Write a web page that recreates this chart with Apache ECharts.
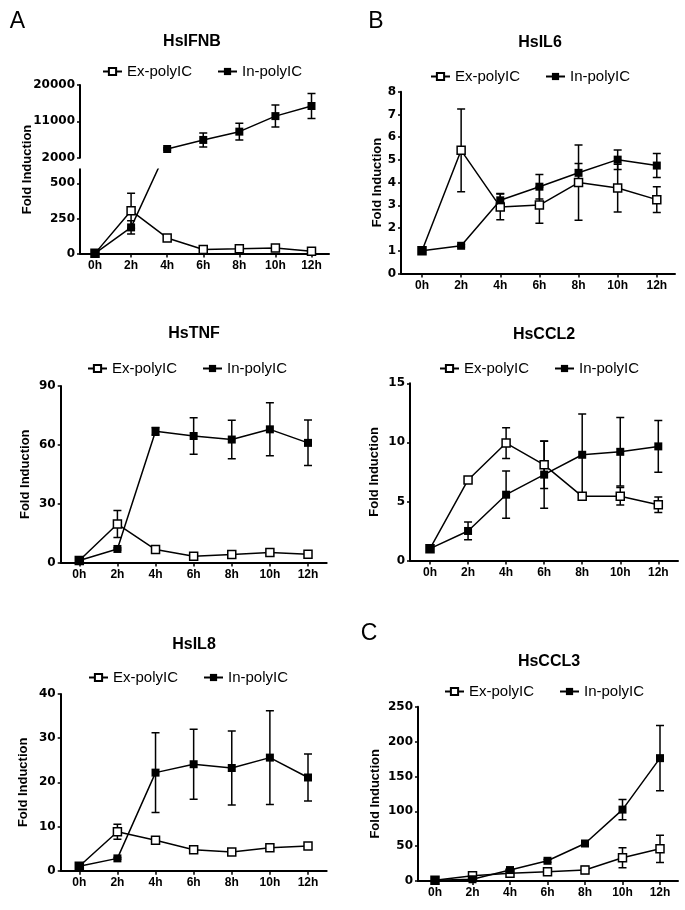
<!DOCTYPE html>
<html>
<head>
<meta charset="utf-8">
<script src="https://cdn.jsdelivr.net/npm/echarts@6/dist/echarts.min.js"></script>
<style>
html,body{margin:0;padding:0;background:#fff;}
#chart{width:685px;height:910px;}
</style>
</head>
<body>
<div id="chart"></div>
<script>
// ---------- DATA ----------
const hours = [0, 2, 4, 6, 8, 10, 12];
const hourLabels = ['0h', '2h', '4h', '6h', '8h', '10h', '12h'];
const seriesNames = ['Ex-polyIC', 'In-polyIC'];
const panelTitles = ['HsIFNB', 'HsIL6', 'HsTNF', 'HsCCL2', 'HsIL8', 'HsCCL3'];
const panelLetters = ['A', 'B', 'C'];
const yAxisTitle = 'Fold Induction';

// HsIFNB (broken axis: lower 0-600, upper 2000-20000)
const ifnbEx    = [1, 305, 111, 28, 33, 40, 16];
const ifnbExErr = [0, 125, 20, 6, 6, 8, 5];
const ifnbIn    = [1, 186, 4150, 6400, 8450, 12300, 14800];
const ifnbInErr = [0, 47, 250, 1730, 2060, 2720, 3100];
const ifnbLowTicks = [0, 250, 500];
const ifnbHighTicks = [2000, 11000, 20000];

// HsIL6
const il6Ex    = [1.0, 5.42, 2.93, 3.01, 4.0, 3.76, 3.25];
const il6ExErr = [0, 1.82, 0.57, 0.8, 1.66, 1.05, 0.57];
const il6In    = [1.0, 1.22, 3.22, 3.82, 4.43, 5.01, 4.75];
const il6InErr = [0, 0.05, 0.3, 0.54, 0.41, 0.43, 0.53];

// HsTNF
const tnfEx    = [1, 19.6, 6.6, 3.2, 4.05, 5.07, 4.2];
const tnfExErr = [0, 6.9, 0.5, 0.5, 0.5, 0.6, 0.5];
const tnfIn    = [1, 6.9, 66.9, 64.5, 62.7, 67.9, 61];
const tnfInErr = [0, 0.5, 2, 9.3, 9.8, 13.5, 11.6];

// HsCCL2
const ccl2Ex    = [1, 6.82, 9.94, 8.1, 5.43, 5.43, 4.72];
const ccl2ExErr = [0, 0.2, 1.3, 2.0, 0.1, 0.74, 0.65];
const ccl2In    = [1, 2.5, 5.57, 7.27, 8.95, 9.2, 9.66];
const ccl2InErr = [0, 0.75, 2.0, 2.85, 3.45, 2.9, 2.2];

// HsIL8
const il8Ex    = [1, 8.83, 6.87, 4.75, 4.23, 5.21, 5.58];
const il8ExErr = [0, 1.7, 0.3, 0.3, 0.3, 0.6, 0.6];
const il8In    = [1, 2.79, 22.2, 24.1, 23.25, 25.6, 21.1];
const il8InErr = [0, 0.2, 9.05, 7.9, 8.4, 10.6, 5.3];

// HsCCL3
const ccl3Ex    = [1, 7.6, 11, 13.3, 15.7, 33.3, 46.2];
const ccl3ExErr = [0, 1, 2, 2, 5, 14.3, 19.5];
const ccl3In    = [1, 2.5, 15.7, 29, 53.8, 102.4, 176.2];
const ccl3InErr = [0, 0.5, 2, 2, 2, 14.6, 46.7];

// ---------- LAYOUT ----------
const FONT = '"Liberation Sans", Arial, sans-serif';
const YFONT = '"DejaVu Sans", sans-serif';
const layout = {
  ifnb: { L: 80, R: 329, x0: 95, x12: 311.5, lowTop: 169.3, lowBot: 253.5, upTop: 85, upBot: 157.7,
          title: [192, 42], legend: [102, 70], yname: [27, 169.5] },
  il6:  { L: 401, R: 675, x0: 422, x12: 656.8, top: 91.7, bot: 273.5, title: [540, 43], legend: [430, 75], nameGap: 16, y: [0, 8, 1] },
  tnf:  { L: 60.7, R: 326.7, x0: 79.3, x12: 308, top: 386, bot: 562.5, title: [194, 334], legend: [87, 367], nameGap: 29, y: [0, 90, 30] },
  ccl2: { L: 410, R: 678, x0: 430, x12: 658.3, top: 383.3, bot: 560.5, title: [544, 335], legend: [439, 367], nameGap: 29, y: [0, 15, 5] },
  il8:  { L: 60.7, R: 326.7, x0: 79.3, x12: 308, top: 694, bot: 870.7, title: [194, 645], legend: [88, 676], nameGap: 31, y: [0, 40, 10] },
  ccl3: { L: 418, R: 678, x0: 435, x12: 660, top: 706.7, bot: 881, title: [549, 662], legend: [444, 690], nameGap: 36, y: [0, 250, 50] }
};
const letterPos = [[17.5, 21.5], [376, 21.5], [369, 634]];

// ---------- BUILD ----------
const option = { animation: false, backgroundColor: '#fff', grid: [], xAxis: [], yAxis: [], series: [], legend: [], graphic: [] };

function xRange(g) {
  const pph = (g.x12 - g.x0) / 12;
  return [-(g.x0 - g.L) / pph, 12 + (g.R - g.x12) / pph];
}
function addX(gi, g, show) {
  const [mn, mx] = xRange(g);
  option.xAxis.push({
    type: 'value', gridIndex: gi, min: mn, max: mx, show: show,
    axisLine: { onZero: false, lineStyle: { color: '#000', width: 2 } },
    axisTick: { length: 4, lineStyle: { color: '#000', width: 1.5 }, customValues: hours },
    axisLabel: { customValues: hours, formatter: v => hourLabels[hours.indexOf(v)], color: '#000',
                 fontFamily: FONT, fontWeight: 'bold', fontSize: 12, margin: 6 },
    splitLine: { show: false }
  });
}
function yLabel(extra) {
  return Object.assign({ color: '#000', fontFamily: YFONT, fontWeight: 'bold', fontSize: 12, margin: 5,
    formatter: v => String(v) }, extra || {});
}
function yAxisBase(gi, extra) {
  return Object.assign({
    type: 'value', gridIndex: gi,
    axisLine: { show: true, onZero: false, lineStyle: { color: '#000', width: 2 } },
    axisTick: { show: true, length: 3, lineStyle: { color: '#000', width: 1.5 } },
    axisLabel: yLabel(),
    splitLine: { show: false }
  }, extra);
}
function errRender(params, api) {
  const x = api.value(0), y = api.value(1), e = api.value(2);
  if (!e) return null;
  const t = api.coord([x, y + e]), b = api.coord([x, y - e]);
  const c = 4, st = { stroke: '#000', lineWidth: 1.5 };
  return { type: 'group', children: [
    { type: 'line', shape: { x1: t[0], y1: t[1], x2: b[0], y2: b[1] }, style: st },
    { type: 'line', shape: { x1: t[0] - c, y1: t[1], x2: t[0] + c, y2: t[1] }, style: st },
    { type: 'line', shape: { x1: b[0] - c, y1: b[1], x2: b[0] + c, y2: b[1] }, style: st }
  ]};
}
function addErr(gi, vals, errs, idxs) {
  option.series.push({
    type: 'custom', xAxisIndex: gi, yAxisIndex: gi, renderItem: errRender, clip: true, silent: true, z: 2,
    data: idxs.map(i => [hours[i], vals[i], errs[i]])
  });
}
function addLine(gi, name, pts, filled) {
  option.series.push({
    type: 'line', name: name, xAxisIndex: gi, yAxisIndex: gi, data: pts, clip: true,
    symbol: 'rect', symbolSize: 8, showAllSymbol: true,
    itemStyle: { color: filled ? '#000' : '#fff', borderColor: '#000', borderWidth: filled ? 0 : 1.5 },
    lineStyle: { color: '#000', width: 1.5 }, z: filled ? 4 : 3, silent: true
  });
}
function addTexts(g, title) {
  option.graphic.push({ type: 'text', x: g.title[0], y: g.title[1],
    style: { text: title, fill: '#000', font: 'bold 16px ' + FONT, textAlign: 'center', textVerticalAlign: 'middle' } });
  option.legend.push({
    left: g.legend[0], top: g.legend[1] - 6, padding: 0, data: seriesNames, itemWidth: 19, itemHeight: 9, itemGap: 25,
    selectedMode: false, textStyle: { fontFamily: FONT, fontSize: 15, color: '#000', padding: [0, 0, 0, 0] }
  });
}
const pts = vals => hours.map((h, i) => [h, vals[i]]);

// Panel A: HsIFNB (two grids)
(function () {
  const g = layout.ifnb;
  option.grid.push({ left: g.L, top: g.lowTop, width: g.R - g.L, height: g.lowBot - g.lowTop });
  option.grid.push({ left: g.L, top: g.upTop, width: g.R - g.L, height: g.upBot - g.upTop });
  addX(0, g, true);
  addX(1, g, false);
  const lowMax = 600, upMin = ifnbHighTicks[0], upMax = ifnbHighTicks[2];
  option.yAxis.push(yAxisBase(0, { min: 0, max: lowMax,
    axisTick: { show: true, length: 3, lineStyle: { color: '#000', width: 1.5 }, customValues: ifnbLowTicks },
    axisLabel: yLabel({ customValues: ifnbLowTicks }) }));
  option.yAxis.push(yAxisBase(1, { min: upMin, max: upMax,
    axisTick: { show: true, length: 3, lineStyle: { color: '#000', width: 1.5 }, customValues: ifnbHighTicks },
    axisLabel: yLabel({ customValues: ifnbHighTicks }) }));
  // lower-scale equivalent of an upper value (so the 2h->4h segment crosses the break as a straight line)
  const lowH = g.lowBot - g.lowTop, upH = g.upBot - g.upTop, gap = g.lowTop - g.upBot;
  const toLow = v => lowMax + (gap + (v - upMin) * upH / (upMax - upMin)) * lowMax / lowH;
  addErr(0, ifnbEx, ifnbExErr, [0, 1, 2, 3, 4, 5, 6]);
  addErr(0, ifnbIn, ifnbInErr, [0, 1]);
  addErr(1, ifnbIn, ifnbInErr, [2, 3, 4, 5, 6]);
  addLine(0, seriesNames[0], pts(ifnbEx), false);
  addLine(0, seriesNames[1], [[hours[0], ifnbIn[0]], [hours[1], ifnbIn[1]], [hours[2], toLow(ifnbIn[2])]], true);
  addLine(1, seriesNames[1], hours.slice(2).map((h, i) => [h, ifnbIn[i + 2]]), true);
  addTexts(g, panelTitles[0]);
  option.graphic.push({ type: 'text', x: g.yname[0], y: g.yname[1], rotation: Math.PI / 2,
    style: { text: yAxisTitle, fill: '#000', font: 'bold 13px ' + FONT, textAlign: 'center', textVerticalAlign: 'middle' } });
})();

// Other panels
const others = [
  ['il6', panelTitles[1], il6Ex, il6ExErr, il6In, il6InErr],
  ['tnf', panelTitles[2], tnfEx, tnfExErr, tnfIn, tnfInErr],
  ['ccl2', panelTitles[3], ccl2Ex, ccl2ExErr, ccl2In, ccl2InErr],
  ['il8', panelTitles[4], il8Ex, il8ExErr, il8In, il8InErr],
  ['ccl3', panelTitles[5], ccl3Ex, ccl3ExErr, ccl3In, ccl3InErr]
];
others.forEach(([key, title, ex, exErr, inn, inErr]) => {
  const g = layout[key];
  const gi = option.grid.length;
  option.grid.push({ left: g.L, top: g.top, width: g.R - g.L, height: g.bot - g.top });
  addX(gi, g, true);
  option.yAxis.push(yAxisBase(gi, { min: g.y[0], max: g.y[1], interval: g.y[2],
    name: yAxisTitle, nameLocation: 'middle', nameGap: g.nameGap, nameRotate: 90,
    nameTextStyle: { color: '#000', fontFamily: FONT, fontWeight: 'bold', fontSize: 13 } }));
  addErr(gi, ex, exErr, [0, 1, 2, 3, 4, 5, 6]);
  addErr(gi, inn, inErr, [0, 1, 2, 3, 4, 5, 6]);
  addLine(gi, seriesNames[0], pts(ex), false);
  addLine(gi, seriesNames[1], pts(inn), true);
  addTexts(g, title);
});

panelLetters.forEach((t, i) => {
  option.graphic.push({ type: 'text', x: letterPos[i][0], y: letterPos[i][1],
    style: { text: t, fill: '#000', font: '23px ' + FONT, textAlign: 'center', textVerticalAlign: 'middle' } });
});

const chart = echarts.init(document.getElementById('chart'), null, { renderer: 'canvas' });
chart.setOption(option);
</script>
</body>
</html>
